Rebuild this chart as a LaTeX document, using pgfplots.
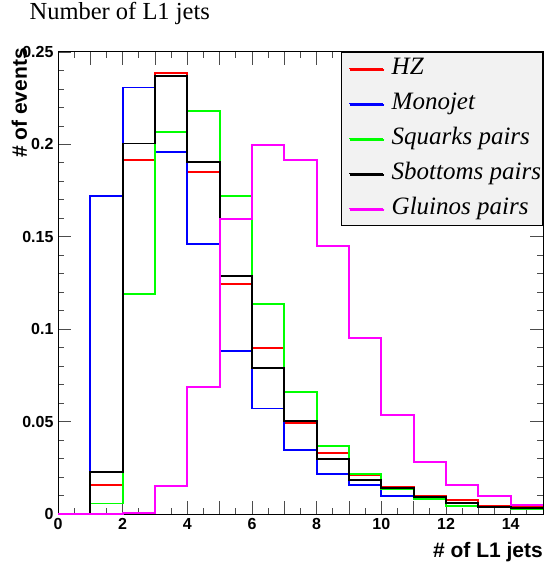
\documentclass[border=0pt]{standalone}
\usepackage{fontspec}
\setmainfont{Liberation Sans}
\newfontfamily\timesfont{Liberation Serif}
\usepackage{pgfplots}
\usepackage{pgfplotstable}
\pgfplotsset{compat=1.18}
\usetikzlibrary{shadows}

% bin left edges, last row repeats the final bin to close the step at x=15
\pgfplotstableread{
x  hz      mono    squark  sbottom gluino
0  0.0     0.0     0.0     0.0     0.0
1  0.0157  0.172   0.0057  0.0225  0.0
2  0.1917  0.2308  0.119   0.2005  0.0005
3  0.2388  0.1957  0.2065  0.2368  0.0153
4  0.1852  0.1459  0.218   0.1905  0.0689
5  0.1246  0.088   0.1719  0.1286  0.1596
6  0.090   0.0571  0.1134  0.079   0.1998
7  0.049   0.0348  0.0658  0.0505  0.1917
8  0.033   0.0216  0.037   0.0298  0.1452
9  0.021   0.0159  0.0218  0.0186  0.095
10 0.0146  0.0095  0.0137  0.014   0.0537
11 0.0095  0.0087  0.0083  0.009   0.0279
12 0.0077  0.0058  0.0041  0.006   0.0159
13 0.0045  0.0037  0.0037  0.004   0.0095
14 0.0036  0.0029  0.0026  0.0032  0.005
15 0.0036  0.0029  0.0026  0.0032  0.005
}\hist

\definecolor{legbg}{RGB}{242,242,242}
\definecolor{hred}{RGB}{255,0,0}
\definecolor{hblue}{RGB}{0,0,255}
\definecolor{hgreen}{RGB}{0,255,0}
\definecolor{hmag}{RGB}{255,0,255}
\newcommand{\entry}[1]{\makebox[144pt][l]{#1}}

\begin{document}
\begin{tikzpicture}
\path[use as bounding box] (-58pt,-55pt) rectangle (487pt,514pt);
\begin{axis}[
  scale only axis,
  width=485pt, height=462pt,
  xmin=0, xmax=15, ymin=0, ymax=0.25,
  axis line style={black, line width=1pt},
  xtick={0,...,15},
  xticklabels={0,,2,,4,,6,,8,,10,,12,,14,},
  minor x tick num=1,
  ytick={0,0.05,0.1,0.15,0.2,0.25},
  yticklabels={0,0.05,0.1,0.15,0.2,0.25},
  minor y tick num=4,
  tick align=inside,
  major tick length=13pt, minor tick length=6pt,
  tick style={black!70, line width=0.8pt},
  tick label style={font=\bfseries\fontsize{16}{18}\selectfont},
  xticklabel style={yshift=-1pt},
  yticklabel style={xshift=-1pt},
  xlabel={\# of L1 jets},
  xlabel style={at={(axis description cs:1,-0.0952)}, anchor=base east,
    inner sep=0pt, font=\bfseries\fontsize{21}{24}\selectfont},
  ylabel={\# of events},
  ylabel style={at={(axis description cs:-0.064,1.0087)}, anchor=base east,
    inner sep=0pt, font=\bfseries\fontsize{21}{24}\selectfont},
  title={\timesfont\fontsize{24.5}{27}\selectfont Number of L1 jets},
  every axis title shift=0pt,
  title style={at={(axis description cs:-0.059,1.0693)}, anchor=base west,
    inner sep=0pt},
  legend style={at={(rel axis cs:1,1)}, anchor=north east,
    fill=legbg, draw=black, line width=0.6pt,
    drop shadow={shadow xshift=1.2pt, shadow yshift=-1.2pt, fill=black, opacity=1},
    font=\timesfont\itshape\fontsize{25}{28}\selectfont,
    nodes={inner sep=0pt, text height=17pt, text depth=6pt},
    row sep=12pt, column sep=8pt, inner xsep=7pt, inner ysep=5pt},
  legend cell align=left,
  legend image code/.code={\draw[#1, line width=1pt] (0pt,0pt) -- (34pt,0pt);},
  every axis plot/.append style={const plot, line width=1.9pt},
]
\addplot[hred] table[x=x, y=hz] {\hist};
\addlegendentry{\entry{HZ}}
\addplot[hblue] table[x=x, y=mono] {\hist};
\addlegendentry{\entry{Monojet}}
\addplot[hgreen] table[x=x, y=squark] {\hist};
\addlegendentry{\entry{Squarks pairs}}
\addplot[black] table[x=x, y=sbottom] {\hist};
\addlegendentry{\entry{Sbottoms pairs}}
\addplot[hmag] table[x=x, y=gluino] {\hist};
\addlegendentry{\entry{Gluinos pairs}}
\end{axis}
\end{tikzpicture}
\end{document}
